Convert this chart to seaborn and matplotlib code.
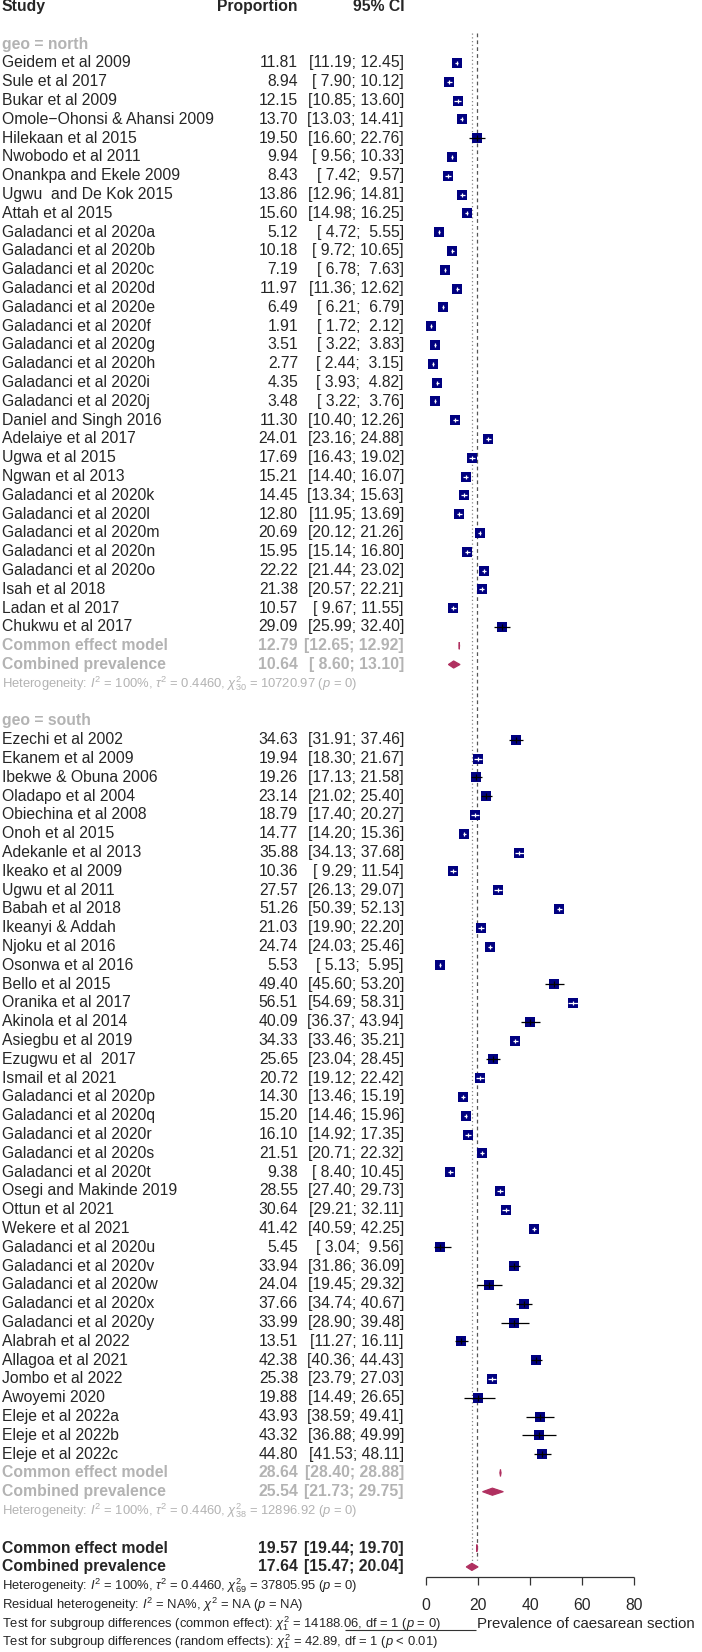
import matplotlib
matplotlib.use("Agg")
import matplotlib.pyplot as plt
import seaborn as sns
import pandas as pd

# ---- data ----
north_studies = [
    "Geidem et al 2009", "Sule et al 2017", "Bukar et al 2009",
    "Omole\u2212Ohonsi & Ahansi 2009", "Hilekaan et al 2015", "Nwobodo et al 2011",
    "Onankpa and Ekele 2009", "Ugwu  and De Kok 2015", "Attah et al 2015",
    "Galadanci et al 2020a", "Galadanci et al 2020b", "Galadanci et al 2020c",
    "Galadanci et al 2020d", "Galadanci et al 2020e", "Galadanci et al 2020f",
    "Galadanci et al 2020g", "Galadanci et al 2020h", "Galadanci et al 2020i",
    "Galadanci et al 2020j", "Daniel and Singh 2016", "Adelaiye et al 2017",
    "Ugwa et al 2015", "Ngwan et al 2013", "Galadanci et al 2020k",
    "Galadanci et al 2020l", "Galadanci et al 2020m", "Galadanci et al 2020n",
    "Galadanci et al 2020o", "Isah et al 2018", "Ladan et al 2017",
    "Chukwu et al 2017",
]
north_est = [11.81, 8.94, 12.15, 13.70, 19.50, 9.94, 8.43, 13.86, 15.60, 5.12,
             10.18, 7.19, 11.97, 6.49, 1.91, 3.51, 2.77, 4.35, 3.48, 11.30,
             24.01, 17.69, 15.21, 14.45, 12.80, 20.69, 15.95, 22.22, 21.38,
             10.57, 29.09]
north_lo = [11.19, 7.90, 10.85, 13.03, 16.60, 9.56, 7.42, 12.96, 14.98, 4.72,
            9.72, 6.78, 11.36, 6.21, 1.72, 3.22, 2.44, 3.93, 3.22, 10.40,
            23.16, 16.43, 14.40, 13.34, 11.95, 20.12, 15.14, 21.44, 20.57,
            9.67, 25.99]
north_hi = [12.45, 10.12, 13.60, 14.41, 22.76, 10.33, 9.57, 14.81, 16.25, 5.55,
            10.65, 7.63, 12.62, 6.79, 2.12, 3.83, 3.15, 4.82, 3.76, 12.26,
            24.88, 19.02, 16.07, 15.63, 13.69, 21.26, 16.80, 23.02, 22.21,
            11.55, 32.40]

south_studies = [
    "Ezechi et al 2002", "Ekanem et al 2009", "Ibekwe & Obuna 2006",
    "Oladapo et al 2004", "Obiechina et al 2008", "Onoh et al 2015",
    "Adekanle et al 2013", "Ikeako et al 2009", "Ugwu et al 2011",
    "Babah et al 2018", "Ikeanyi & Addah", "Njoku et al 2016",
    "Osonwa et al 2016", "Bello et al 2015", "Oranika et al 2017",
    "Akinola et al 2014", "Asiegbu et al 2019", "Ezugwu et al  2017",
    "Ismail et al 2021", "Galadanci et al 2020p", "Galadanci et al 2020q",
    "Galadanci et al 2020r", "Galadanci et al 2020s", "Galadanci et al 2020t",
    "Osegi and Makinde 2019", "Ottun et al 2021", "Wekere et al 2021",
    "Galadanci et al 2020u", "Galadanci et al 2020v", "Galadanci et al 2020w",
    "Galadanci et al 2020x", "Galadanci et al 2020y", "Alabrah et al 2022",
    "Allagoa et al 2021", "Jombo et al 2022", "Awoyemi 2020",
    "Eleje et al 2022a", "Eleje et al 2022b", "Eleje et al 2022c",
]
south_est = [34.63, 19.94, 19.26, 23.14, 18.79, 14.77, 35.88, 10.36, 27.57,
             51.26, 21.03, 24.74, 5.53, 49.40, 56.51, 40.09, 34.33, 25.65,
             20.72, 14.30, 15.20, 16.10, 21.51, 9.38, 28.55, 30.64, 41.42,
             5.45, 33.94, 24.04, 37.66, 33.99, 13.51, 42.38, 25.38, 19.88,
             43.93, 43.32, 44.80]
south_lo = [31.91, 18.30, 17.13, 21.02, 17.40, 14.20, 34.13, 9.29, 26.13,
            50.39, 19.90, 24.03, 5.13, 45.60, 54.69, 36.37, 33.46, 23.04,
            19.12, 13.46, 14.46, 14.92, 20.71, 8.40, 27.40, 29.21, 40.59,
            3.04, 31.86, 19.45, 34.74, 28.90, 11.27, 40.36, 23.79, 14.49,
            38.59, 36.88, 41.53]
south_hi = [37.46, 21.67, 21.58, 25.40, 20.27, 15.36, 37.68, 11.54, 29.07,
            52.13, 22.20, 25.46, 5.95, 53.20, 58.31, 43.94, 35.21, 28.45,
            22.42, 15.19, 15.96, 17.35, 22.32, 10.45, 29.73, 32.11, 42.25,
            9.56, 36.09, 29.32, 40.67, 39.48, 16.11, 44.43, 27.03, 26.65,
            49.41, 49.99, 48.11]

# summaries: (estimate, lower, upper)
north_common = (12.79, 12.65, 12.92)
north_random = (10.64, 8.60, 13.10)
south_common = (28.64, 28.40, 28.88)
south_random = (25.54, 21.73, 29.75)
overall_common = (19.57, 19.44, 19.70)
overall_random = (17.64, 15.47, 20.04)

north_het = r"Heterogeneity: $I^2$ = 100%, $\tau^2$ = 0.4460, $\chi^2_{30}$ = 10720.97 ($p$ = 0)"
south_het = r"Heterogeneity: $I^2$ = 100%, $\tau^2$ = 0.4460, $\chi^2_{38}$ = 12896.92 ($p$ = 0)"
bottom_lines = [
    r"Heterogeneity: $I^2$ = 100%, $\tau^2$ = 0.4460, $\chi^2_{69}$ = 37805.95 ($p$ = 0)",
    r"Residual heterogeneity: $I^2$ = NA%, $\chi^2$ = NA ($p$ = NA)",
    r"Test for subgroup differences (common effect): $\chi^2_1$ = 14188.06, df = 1 ($p$ = 0)",
    r"Test for subgroup differences (random effects): $\chi^2_1$ = 42.89, df = 1 ($p$ < 0.01)",
]
axis_ticks = [0, 20, 40, 60, 80]
xlabel = "Prevalence of caesarean section"

# ---- style ----
sns.set_theme(style="white")
plt.rcParams["font.family"] = ["Liberation Sans", "DejaVu Sans"]
plt.rcParams["mathtext.fontset"] = "custom"
plt.rcParams["mathtext.rm"] = "Liberation Sans"
plt.rcParams["mathtext.it"] = "Liberation Sans:italic"
plt.rcParams["mathtext.bf"] = "Liberation Sans:bold"

FS = 11.3
FS_SMALL = 9.4
GREY = "#b3b3b3"
SQ = "#000080"
DIA = "#b03060"

W, H = 702, 1652
X0, PXU = 426.0, 2.6          # pixel of 0 and pixels per unit
Y0, ROWH = 6.5, 18.8          # pixel of row 0 and row height


def px(x):
    return (x - X0) / PXU


def py(y):
    return (y - Y0) / ROWH


fig = plt.figure(figsize=(W / 100, H / 100), dpi=100)
ax = fig.add_axes([0, 0, 1, 1])
ax.set_xlim(px(0), px(W))
ax.set_ylim(py(H), py(0))
ax.axis("off")

X_STUDY, X_PROP, X_CI = px(2), px(298), px(404)

# header
ax.text(X_STUDY, 0, "Study", fontsize=FS, fontweight="bold", va="center", ha="left")
ax.text(X_PROP, 0, "Proportion", fontsize=FS, fontweight="bold", va="center", ha="right")
ax.text(px(405), 0, "95% CI", fontsize=FS, fontweight="bold", va="center", ha="right")


def fmt_ci(lo, hi):
    return f"[{lo:5.2f}; {hi:5.2f}]"


def diamond(vals, r):
    e, l, h = vals
    dh = 3.6 / ROWH
    ax.fill([l, e, h, e], [r, r - dh, r, r + dh], color=DIA, lw=0.8,
            edgecolor=DIA, zorder=4)


def draw_group(label, start, names, est, lo, hi, common, random, het):
    ax.text(X_STUDY, start, label, fontsize=FS, fontweight="bold", color=GREY,
            va="center", ha="left")
    rows = [start + 1 + i for i in range(len(names))]
    df = pd.DataFrame({"row": rows, "est": est, "lo": lo, "hi": hi, "name": names})
    for r, n, e, l, h in zip(df.row, df.name, df.est, df.lo, df.hi):
        ax.text(X_STUDY, r, n, fontsize=FS, va="center", ha="left")
        ax.text(X_PROP, r, f"{e:.2f}", fontsize=FS, va="center", ha="right")
        ax.text(X_CI, r, fmt_ci(l, h), fontsize=FS, va="center", ha="right")
    sns.scatterplot(data=df, x="est", y="row", marker="s", s=52, color=SQ,
                    linewidth=0, ax=ax, zorder=3, legend=False)
    # CI drawn white when it fits inside the square, black otherwise
    inside = (df.hi - df.lo) * PXU < 10
    for sub, col, tick in [(df[inside], "white", 2.0), (df[~inside], "black", 3.0)]:
        ax.hlines(sub.row, sub.lo, sub.hi, color=col, lw=0.9, zorder=4)
        ax.vlines(sub.est, sub.row - tick / ROWH, sub.row + tick / ROWH,
                  color=col, lw=0.9, zorder=4)
    r_ce = start + len(names) + 1
    for k, (lab, vals) in enumerate([("Common effect model", common),
                                     ("Combined prevalence", random)]):
        r = r_ce + k
        ax.text(X_STUDY, r, lab, fontsize=FS, fontweight="bold", color=GREY, va="center")
        ax.text(X_PROP, r, f"{vals[0]:.2f}", fontsize=FS, fontweight="bold",
                color=GREY, va="center", ha="right")
        ax.text(X_CI, r, fmt_ci(vals[1], vals[2]), fontsize=FS, fontweight="bold",
                color=GREY, va="center", ha="right")
        diamond(vals, r)
    ax.text(X_STUDY, r_ce + 2, het, fontsize=FS_SMALL, color=GREY, va="center")
    return r_ce + 2


end_n = draw_group("geo = north", 2, north_studies, north_est, north_lo, north_hi,
                   north_common, north_random, north_het)
end_s = draw_group("geo = south", end_n + 2, south_studies, south_est, south_lo,
                   south_hi, south_common, south_random, south_het)

r = end_s + 2
for k, (lab, vals) in enumerate([("Common effect model", overall_common),
                                 ("Combined prevalence", overall_random)]):
    ax.text(X_STUDY, r + k, lab, fontsize=FS, fontweight="bold", va="center")
    ax.text(X_PROP, r + k, f"{vals[0]:.2f}", fontsize=FS, fontweight="bold",
            va="center", ha="right")
    ax.text(X_CI, r + k, fmt_ci(vals[1], vals[2]), fontsize=FS, fontweight="bold",
            va="center", ha="right")
    diamond(vals, r + k)
for k, line in enumerate(bottom_lines):
    ax.text(X_STUDY, r + 2 + k, line, fontsize=FS_SMALL, va="center")

# reference lines
ax.vlines(overall_common[0], py(33), py(1560), colors="#555555", lw=0.9,
          linestyles=(0, (3, 2.5)), zorder=2)
ax.vlines(overall_random[0], py(33), py(1570), colors="#888888", lw=0.9,
          linestyles=(0, (1, 2)), zorder=2)

# x axis
y_ax = py(1577)
ax.hlines(y_ax, axis_ticks[0], axis_ticks[-1], color="#333333", lw=0.9)
ax.vlines(axis_ticks, y_ax, py(1585), color="#333333", lw=0.9)
for t in axis_ticks:
    ax.text(t, py(1605), str(t), fontsize=FS, ha="center", va="center")
ax.text(px(477), py(1624), xlabel, fontsize=10.8, ha="left", va="center")
ax.hlines(py(1630), px(345), px(476), color="#333333", lw=0.8)

fig.savefig("out.png", dpi=100)
